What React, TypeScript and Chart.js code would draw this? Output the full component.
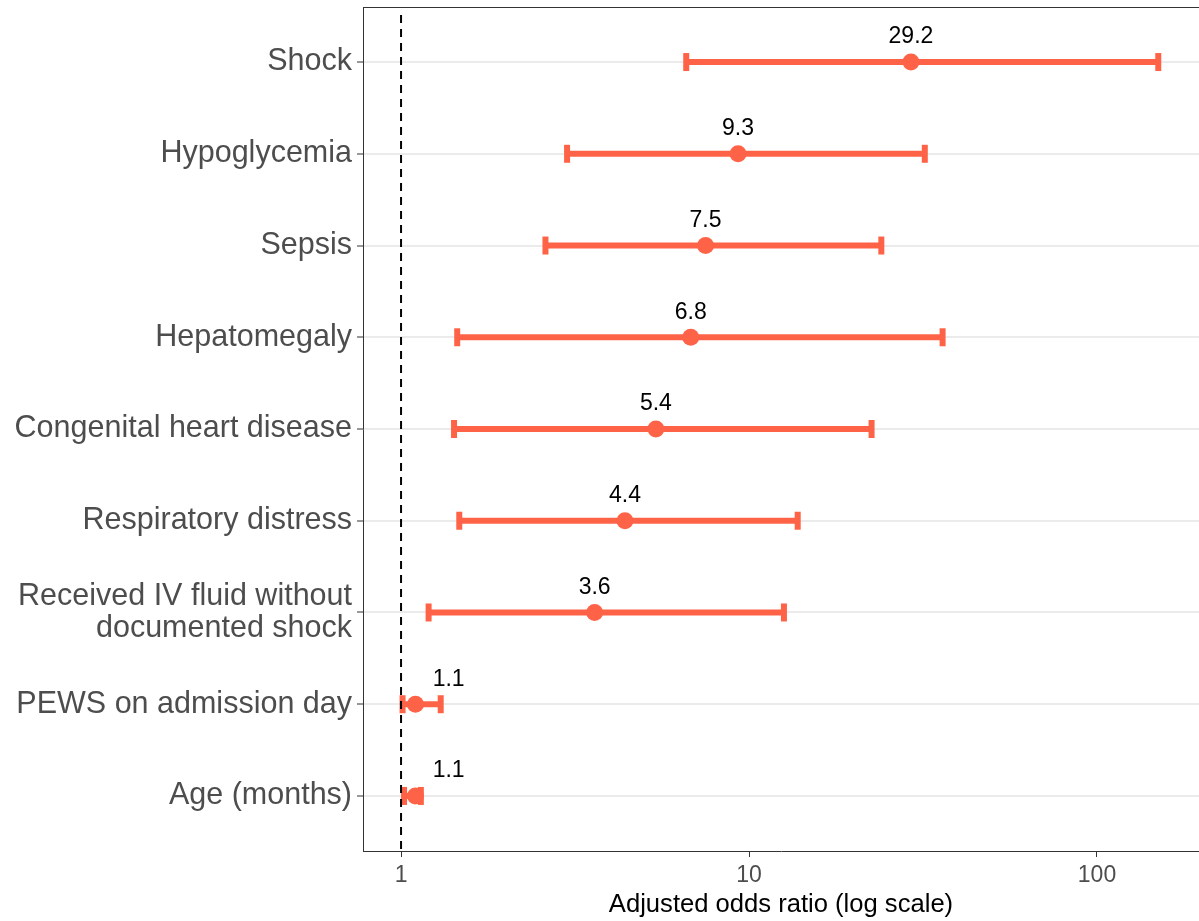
import React, { useEffect, useRef } from "react";
import { Chart, registerables } from "chart.js";

Chart.register(...registerables);

const categories: (string | string[])[] = [
  "Shock",
  "Hypoglycemia",
  "Sepsis",
  "Hepatomegaly",
  "Congenital heart disease",
  "Respiratory distress",
  ["Received IV fluid without", "documented shock"],
  "PEWS on admission day",
  "Age (months)",
];
const oddsRatio = [29.2, 9.3, 7.5, 6.8, 5.4, 4.4, 3.6, 1.1, 1.1];
const ciLower = [6.6, 3.0, 2.6, 1.45, 1.42, 1.47, 1.2, 1.01, 1.02];
const ciUpper = [150, 32, 24, 36, 22.5, 13.8, 12.6, 1.3, 1.14];
const labelAt = [29.2, 9.3, 7.5, 6.8, 5.4, 4.4, 3.6, 1.37, 1.37];
const xTicks = [1, 10, 100];
const refLine = 1;

const TOMATO = "#FF6347";
const FAMILY = '"Liberation Sans", Arial, Helvetica, sans-serif';

const overlay = {
  id: "overlay",
  afterDatasetsDraw(chart: any) {
    const { ctx, chartArea } = chart;
    const x = chart.scales.x;
    const y = chart.scales.y;
    ctx.save();
    const xr = x.getPixelForValue(refLine);
    ctx.strokeStyle = "#000";
    ctx.lineWidth = 2;
    ctx.setLineDash([8, 6]);
    ctx.beginPath();
    ctx.moveTo(xr, chartArea.top + 8);
    ctx.lineTo(xr, chartArea.bottom);
    ctx.stroke();
    ctx.setLineDash([]);
    ctx.fillStyle = "#000";
    ctx.font = `23px ${FAMILY}`;
    ctx.textAlign = "center";
    ctx.textBaseline = "middle";
    oddsRatio.forEach((v, i) => {
      ctx.fillText(v.toFixed(1), x.getPixelForValue(labelAt[i]), y.getPixelForValue(i + 1) - 25);
    });
    ctx.strokeStyle = "#333";
    ctx.lineWidth = 1;
    ctx.beginPath();
    ctx.moveTo(chartArea.left, chartArea.top + 0.5);
    ctx.lineTo(chartArea.right, chartArea.top + 0.5);
    ctx.stroke();
    ctx.restore();
  },
};

const zeroPad = (s: any) => {
  s.paddingTop = 0;
  s.paddingBottom = 0;
  s.paddingLeft = 0;
  s.paddingRight = 0;
};

export default function App() {
  const ref = useRef<HTMLCanvasElement | null>(null);

  useEffect(() => {
    if (!ref.current) return;
    const points = oddsRatio.map((v, i) => ({ x: v, y: i + 1 }));
    const caps = [
      ...ciLower.map((v, i) => ({ x: v, y: i + 1 })),
      ...ciUpper.map((v, i) => ({ x: v, y: i + 1 })),
    ];
    const ciSets = ciLower.map((lo, i) => ({
      data: [
        { x: lo, y: i + 1 },
        { x: ciUpper[i], y: i + 1 },
      ],
      showLine: true,
      borderColor: TOMATO,
      borderWidth: 6,
      pointRadius: 0,
      pointHoverRadius: 0,
      order: 3,
    }));

    const chart = new Chart(ref.current, {
      type: "scatter",
      data: {
        datasets: [
          {
            data: points,
            pointRadius: 8.5,
            pointHoverRadius: 8.5,
            pointBackgroundColor: TOMATO,
            pointBorderWidth: 0,
            order: 1,
          } as any,
          {
            data: caps,
            pointStyle: "line",
            pointRotation: 90,
            pointRadius: 9,
            pointHoverRadius: 9,
            pointBorderColor: TOMATO,
            pointBorderWidth: 6,
            order: 2,
          } as any,
          ...(ciSets as any[]),
        ],
      },
      options: {
        animation: false,
        responsive: false,
        devicePixelRatio: 1,
        events: [],
        layout: { autoPadding: false, padding: { top: 7, left: 0, right: 0, bottom: 0 } },
        plugins: { legend: { display: false }, tooltip: { enabled: false } },
        scales: {
          x: {
            type: "logarithmic",
            position: "bottom",
            min: 0.7774,
            max: 196.4,
            afterBuildTicks: (s: any) => {
              s.ticks = xTicks.map((v) => ({ value: v }));
            },
            afterFit: (s: any) => {
              s.height = 70;
              zeroPad(s);
            },
            grid: {
              drawOnChartArea: false,
              drawTicks: true,
              tickLength: 6,
              tickColor: "#333",
              tickWidth: 1,
            },
            border: { display: true, color: "#333", width: 1 },
            ticks: {
              callback: (v: any) => String(v),
              color: "#4d4d4d",
              font: { size: 23, family: FAMILY },
              padding: 5,
              maxRotation: 0,
              minRotation: 0,
              autoSkip: false,
            },
            title: {
              display: true,
              text: "Adjusted odds ratio (log scale)",
              color: "#000",
              font: { size: 25.6, family: FAMILY },
              padding: { top: 0, bottom: 1 },
            },
          },
          y: {
            type: "linear",
            reverse: true,
            min: 0.4,
            max: 9.6,
            afterBuildTicks: (s: any) => {
              s.ticks = categories.map((_, i) => ({ value: i + 1 }));
            },
            afterFit: (s: any) => {
              s.width = 363;
              zeroPad(s);
            },
            grid: {
              color: "#ebebeb",
              lineWidth: 2,
              drawTicks: true,
              tickLength: 6,
              tickColor: "#333",
              tickWidth: 1,
            },
            border: { display: true, color: "#333", width: 1 },
            ticks: {
              callback: (v: any) => categories[Math.round(v) - 1] as any,
              color: "#4d4d4d",
              font: { size: 30.5, family: FAMILY, lineHeight: 1.06 },
              padding: 5,
              autoSkip: false,
            },
          },
        },
      },
      plugins: [overlay],
    } as any);
    return () => chart.destroy();
  }, []);

  return (
    <div style={{ position: "absolute", left: 0, top: 0, width: 1199, height: 921, background: "#fff" }}>
      <canvas ref={ref} width={1199} height={921} style={{ display: "block", width: 1199, height: 921 }} />
    </div>
  );
}
